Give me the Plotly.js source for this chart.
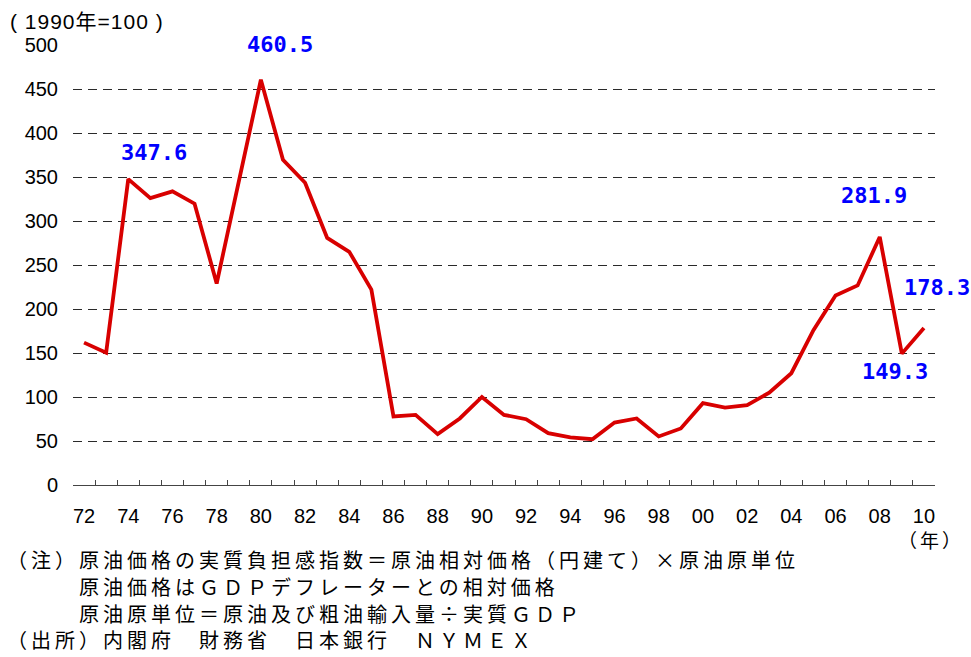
<!DOCTYPE html>
<html>
<head>
<meta charset="utf-8">
<script src="https://cdn.plot.ly/plotly-3.0.1.min.js"></script>
<style>html,body{margin:0;padding:0;background:#fff;}#chart{width:971px;height:657px;}</style>
</head>
<body>
<div id="chart"></div>
<script>
// ---- data ----
const years = [1972,1973,1974,1975,1976,1977,1978,1979,1980,
  1981,1982,1983,1984,1985,1986,1987,1988,1989,1990,
  1991,1992,1993,1994,1995,1996,1997,1998,1999,2000,
  2001,2002,2003,2004,2005,2006,2007,2008,2009,2010];
const burdenIndex = [161.8,150.4,347.6,326.0,333.7,319.7,229.0,345.0,460.5,
  369.6,343.5,280.8,265.0,222.0,77.9,79.7,57.8,75.6,100.0,
  79.7,74.8,59.0,54.0,52.0,71.0,75.6,55.2,64.3,93.0,
  88.0,90.7,105.0,127.0,176.0,215.4,226.8,281.9,149.3,178.3];
const tickYears = [1972,1974,1976,1978,1980,1982,1984,1986,1988,1990,
  1992,1994,1996,1998,2000,2002,2004,2006,2008,2010];
const tickText = ['72','74','76','78','80','82','84','86','88','90',
  '92','94','96','98','00','02','04','06','08','10'];
const yTicks = [0,50,100,150,200,250,300,350,400,450,500];
const labelYears = [1974,1980,2008,2009,2010];
const labelValues = [347.6,460.5,281.9,149.3,178.3];
const unitText = '( 1990年=100 )';
const yearUnit = '（年）';
const noteLines = [
  '（注）原油価格の実質負担感指数＝原油相対価格（円建て）×原油原単位',
  '原油価格はＧＤＰデフレーターとの相対価格',
  '原油原単位＝原油及び粗油輸入量÷実質ＧＤＰ',
  '（出所）内閣府　財務省　日本銀行　ＮＹＭＥＸ'
];

// ---- styling / layout ----
const W = 971, H = 657;
const M = {l:73, r:36, t:45, b:172};
const pw = W - M.l - M.r, ph = H - M.t - M.b;
const px = x => (x - M.l) / pw;
const py = y => (M.t + ph - y) / ph;
const sans = 'Liberation Sans, Arial, Noto Sans CJK JP, sans-serif';
const cjk = 'Noto Sans CJK JP, sans-serif';

const labelShift = [[26,27],[19,35],[-6,41],[-7,-18],[13,41]];
const annotations = labelYears.map((yr,i)=>({
  x: yr, y: labelValues[i], xref:'x', yref:'y', showarrow:false,
  text: labelValues[i].toFixed(1), xshift: labelShift[i][0], yshift: labelShift[i][1],
  xanchor:'center', yanchor:'middle',
  font:{family:'DejaVu Sans Mono, monospace', size:22, color:'#0000FF', weight:700}
}));
annotations.push({x:px(8), y:py(21), xref:'paper', yref:'paper', showarrow:false,
  xanchor:'left', yanchor:'middle', text: '<span style="letter-spacing:1px">'+unitText+'</span>',
  font:{family:sans, size:21, color:'#000'}});
annotations.push({x:px(966), y:py(539), xref:'paper', yref:'paper', showarrow:false,
  xanchor:'right', yanchor:'middle', text: '<span style="letter-spacing:3px">'+yearUnit+'</span>',
  font:{family:cjk, size:19, color:'#000'}});
const noteX = [5, 77, 77, 5];
const noteY = [559, 586, 613, 639];
noteLines.forEach((t,i)=>{
  annotations.push({x:px(noteX[i]), y:py(noteY[i]), xref:'paper', yref:'paper', showarrow:false,
    xanchor:'left', yanchor:'middle', text:'<span style="letter-spacing:4px">'+t+'</span>',
    font:{family:cjk, size:20, color:'#000'}});
});

const traces = [
  {x: years, y: burdenIndex, type:'scatter', mode:'lines',
   line:{color:'#D80000', width:3.8}, cliponaxis:false, hoverinfo:'skip', showlegend:false},
  {x: [], y: [], xaxis:'x2', type:'scatter', mode:'lines', showlegend:false}
];

const layout = {
  width:W, height:H, margin:M, paper_bgcolor:'#fff', plot_bgcolor:'#fff',
  showlegend:false,
  font:{family:sans, size:20, color:'#000'},
  xaxis:{range:[1971.5,2010.5], tickmode:'linear', tick0:1971.5, dtick:1,
    ticks:'inside', ticklen:5, tickwidth:1, tickcolor:'#444',
    showticklabels:false, showline:true, linecolor:'#444', linewidth:1.3,
    showgrid:false, zeroline:false, fixedrange:true},
  xaxis2:{range:[1971.5,2010.5], overlaying:'x', anchor:'y', side:'bottom',
    tickmode:'array', tickvals:tickYears, ticktext:tickText, ticks:'',
    showline:false, showgrid:false, zeroline:false, ticklabelstandoff:17,
    tickfont:{family:sans, size:20, color:'#000'}},
  yaxis:{range:[0,500], tickmode:'array', tickvals:yTicks, ticks:'',
    showgrid:true, gridcolor:'#2a2a2a', gridwidth:1, griddash:'9px,6px',
    zeroline:false, showline:false, ticklabelstandoff:14,
    tickfont:{family:sans, size:20, color:'#000'}},
  annotations: annotations
};

Plotly.newPlot('chart', traces, layout, {staticPlot:true, displayModeBar:false});
</script>
</body>
</html>
